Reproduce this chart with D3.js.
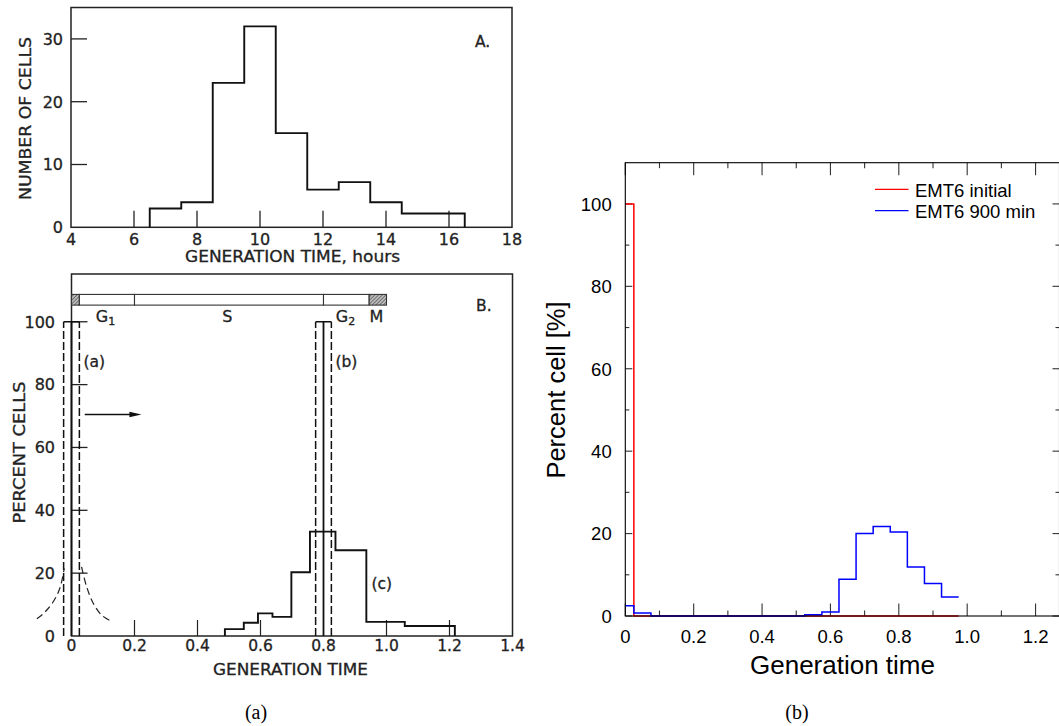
<!DOCTYPE html>
<html><head><meta charset="utf-8">
<script src="https://cdn.jsdelivr.net/npm/d3@7"></script>
<style>
html,body{margin:0;padding:0;background:#fff;}
svg{display:block;}
.scan{stroke:#222;stroke-width:0.3px;}
</style></head><body>
<svg id="fig" width="1059" height="726"></svg>
<script>
// ================= DATA =================
// (a) panel A : generation time histogram (hours)
const aBinEdges = [6.5, 7.5, 8.5, 9.5, 10.5, 11.5, 12.5, 13.5, 14.5, 16.5];
const aCounts   = [3, 4, 23, 32, 15, 6, 7.2, 4, 2.2];
const aXTicks   = [4, 6, 8, 10, 12, 14, 16, 18];
const aYTicks   = [0, 10, 20, 30];

// (a) panel B : normalised generation time
const bBinEdges = [0.487, 0.547, 0.592, 0.638, 0.698, 0.757, 0.838, 0.936, 1.058, 1.217];
const bPercent  = [2.2, 4.2, 7.2, 6.1, 20.3, 33.2, 27.3, 4.5, 3.2];
const bXTicks   = [0, 0.2, 0.4, 0.6, 0.8, 1.0, 1.2, 1.4];
const bXTickLabels = ["0", "0.2", "0.4", "0.6", "0.8", "1.0", "1.2", "1.4"];
const bYTicks   = [0, 20, 40, 60, 80, 100];
const phaseNames   = ["", "G", "S", "G", "M"];
const phaseSubs    = ["", "1", "", "2", ""];
const phaseStart   = [0, 0.025, 0.2, 0.8, 0.945];
const phaseEnd     = [0.025, 0.2, 0.8, 0.945, 1.0];
const phaseHatched = [true, false, false, false, true];
const phaseLabelX  = [null, 0.108, 0.495, 0.87, 0.968];
const pulseCenters = [0, 0.8];
const pulseHalf    = 0.025;
const pulseHeight  = 100;
const pulseLabels  = ["(a)", "(b)"];
const tailLeft  = [[-0.11, 5.5], [-0.095, 6.6], [-0.079, 8.2], [-0.058, 10.9], [-0.037, 15.2], [-0.023, 21.5]];
const tailRight = [[0.032, 22], [0.048, 15.7], [0.069, 10.4], [0.095, 6.7], [0.122, 4.9]];
const arrowFrom = [0.042, 70.5];
const arrowTo   = [0.222, 70.5];

// (b) simulation histogram
const binCenters  = [0, 0.05, 0.1, 0.15, 0.2, 0.25, 0.3, 0.35, 0.4, 0.45, 0.5, 0.55, 0.6, 0.65, 0.7, 0.75, 0.8, 0.85, 0.9, 0.95];
const emt6Initial = [100, 0, 0, 0, 0, 0, 0, 0, 0, 0, 0, 0, 0, 0, 0, 0, 0, 0, 0, 0];
const emt6Final   = [2.5, 0.7, 0, 0, 0, 0, 0, 0, 0, 0, 0, 0.3, 1.0, 8.9, 20.0, 21.7, 20.4, 11.9, 7.9, 4.6];
const binHalf     = 0.025;
const xMajor      = [0, 0.2, 0.4, 0.6, 0.8, 1.0, 1.2];
const xMajorLabels = ["0", "0.2", "0.4", "0.6", "0.8", "1.0", "1.2"];
const xMinor      = [0.1, 0.3, 0.5, 0.7, 0.9, 1.1];
const yMajor      = [0, 20, 40, 60, 80, 100];
const yMinor      = [10, 30, 50, 70, 90];
const seriesNames  = ["EMT6 initial", "EMT6 900 min"];
const seriesColors = ["#ff0000", "#0000ff"];

// ================= DRAW =================
const svg = d3.select("#fig");
svg.append("rect").attr("width", 1059).attr("height", 726).attr("fill", "#fff");
const defs = svg.append("defs");
const pat = defs.append("pattern").attr("id", "hatch").attr("patternUnits", "userSpaceOnUse")
  .attr("width", 2.6).attr("height", 2.6).attr("patternTransform", "rotate(45)");
pat.append("rect").attr("width", 2.6).attr("height", 2.6).attr("fill", "#bbb");
pat.append("line").attr("x1", 0).attr("y1", 0).attr("x2", 0).attr("y2", 2.6).attr("stroke", "#444").attr("stroke-width", 1.2);

const ink = "#222";
const scanFont = "'DejaVu Sans', sans-serif";

// ---------- Panel A ----------
const xA = d3.scaleLinear().domain([4, 18]).range([71, 512]);
const yA = d3.scaleLinear().domain([0, 35]).range([227.3, 7.5]);
const gA = svg.append("g");
gA.append("rect").attr("x", xA(4)).attr("y", yA(35)).attr("width", xA(18) - xA(4)).attr("height", yA(0) - yA(35))
  .attr("fill", "none").attr("stroke", ink).attr("stroke-width", 1.5);
gA.selectAll(".xt").data(aXTicks.slice(1, -1)).join("line")
  .attr("x1", d => xA(d)).attr("x2", d => xA(d)).attr("y1", yA(0)).attr("y2", yA(0) - 16.5)
  .attr("stroke", ink).attr("stroke-width", 1.3);
gA.selectAll(".yt").data(aYTicks.slice(1)).join("line")
  .attr("x1", xA(4)).attr("x2", xA(4) + 16).attr("y1", d => yA(d)).attr("y2", d => yA(d))
  .attr("stroke", ink).attr("stroke-width", 1.3);
gA.selectAll(".xl").data(aXTicks).join("text").attr("class", "scan")
  .attr("x", d => xA(d)).attr("y", 245).attr("text-anchor", "middle")
  .attr("font-family", scanFont).attr("font-size", 16).attr("fill", ink).text(d => d);
gA.selectAll(".yl").data(aYTicks).join("text").attr("class", "scan")
  .attr("x", 63).attr("y", d => yA(d) + 5.8).attr("text-anchor", "end")
  .attr("font-family", scanFont).attr("font-size", 16).attr("fill", ink).text(d => d);
{
  const pts = aCounts.map((v, i) => [aBinEdges[i], v]);
  pts.unshift([aBinEdges[0], 0]);
  pts.push([aBinEdges[aBinEdges.length - 1], aCounts[aCounts.length - 1]]);
  pts.push([aBinEdges[aBinEdges.length - 1], 0]);
  const line = d3.line().x(d => xA(d[0])).y(d => yA(d[1])).curve(d3.curveStepAfter);
  gA.append("path").attr("d", line(pts)).attr("fill", "none").attr("stroke", "#111").attr("stroke-width", 1.9);
}
gA.append("text").attr("class", "scan").attr("transform", "translate(30.5,118.5) rotate(-90)").attr("text-anchor", "middle")
  .attr("font-family", scanFont).attr("font-size", 15.5).attr("fill", ink)
  .attr("textLength", 163).attr("lengthAdjust", "spacingAndGlyphs").text("NUMBER OF CELLS");
gA.append("text").attr("class", "scan").attr("x", 292.5).attr("y", 262).attr("text-anchor", "middle")
  .attr("font-family", scanFont).attr("font-size", 15.5).attr("fill", ink)
  .attr("textLength", 215).attr("lengthAdjust", "spacingAndGlyphs").text("GENERATION TIME, hours");
gA.append("text").attr("class", "scan").attr("x", 475).attr("y", 46.5).attr("font-family", scanFont).attr("font-size", 15.5).attr("fill", ink).text("A.");

// ---------- Panel B ----------
const xB = d3.scaleLinear().domain([0, 1.4]).range([71.5, 512.5]);
const yB = d3.scaleLinear().domain([0, 115.2]).range([636, 274]);
const gB = svg.append("g");
gB.append("rect").attr("x", xB(0)).attr("y", yB(115.2)).attr("width", xB(1.4) - xB(0)).attr("height", yB(0) - yB(115.2))
  .attr("fill", "none").attr("stroke", ink).attr("stroke-width", 1.5);
gB.selectAll(".xt").data(bXTicks.filter(d => d > 0 && d < 1.4 && d !== 0.8)).join("line")
  .attr("x1", d => xB(d)).attr("x2", d => xB(d)).attr("y1", yB(0)).attr("y2", yB(0) - 16)
  .attr("stroke", ink).attr("stroke-width", 1.2);
gB.selectAll(".yt").data(bYTicks.slice(1)).join("line")
  .attr("x1", xB(0)).attr("x2", xB(0) + 16).attr("y1", d => yB(d)).attr("y2", d => yB(d))
  .attr("stroke", ink).attr("stroke-width", 1.3);
gB.selectAll(".xl").data(bXTicks).join("text").attr("class", "scan")
  .attr("x", d => xB(d)).attr("y", 651).attr("text-anchor", "middle")
  .attr("font-family", scanFont).attr("font-size", 15.5).attr("fill", ink).text((d, i) => bXTickLabels[i]);
gB.selectAll(".yl").data(bYTicks).join("text").attr("class", "scan")
  .attr("x", 55).attr("y", d => yB(d) + 5.8).attr("text-anchor", "end")
  .attr("font-family", scanFont).attr("font-size", 16).attr("fill", ink).text(d => d);

// cell cycle bar
const barLo = 105.3, barHi = 108.7;
phaseStart.forEach((s, i) => {
  gB.append("rect").attr("x", xB(s)).attr("y", yB(barHi)).attr("width", xB(phaseEnd[i]) - xB(s))
    .attr("height", yB(barLo) - yB(barHi))
    .attr("fill", phaseHatched[i] ? "url(#hatch)" : "#fff").attr("stroke", "#333").attr("stroke-width", 1.1);
  if (phaseNames[i]) {
    const t = gB.append("text").attr("class", "scan").attr("x", xB(phaseLabelX[i])).attr("y", 322).attr("text-anchor", "middle")
      .attr("font-family", scanFont).attr("font-size", 16).attr("fill", ink);
    t.append("tspan").text(phaseNames[i]);
    if (phaseSubs[i]) t.append("tspan").attr("font-size", 11).attr("dy", 3).text(phaseSubs[i]);
  }
});

// pulses (a) and (b)
pulseCenters.forEach((c, i) => {
  gB.append("line").attr("x1", xB(c)).attr("x2", xB(c)).attr("y1", yB(0)).attr("y2", yB(pulseHeight))
    .attr("stroke", "#111").attr("stroke-width", 1.8);
  [c - pulseHalf, c + pulseHalf].forEach(xv => {
    gB.append("line").attr("x1", xB(xv)).attr("x2", xB(xv)).attr("y1", yB(0)).attr("y2", yB(pulseHeight))
      .attr("stroke", "#111").attr("stroke-width", 1.5).attr("stroke-dasharray", "8,3");
  });
  gB.append("line").attr("x1", xB(c - pulseHalf)).attr("x2", xB(c + pulseHalf)).attr("y1", yB(pulseHeight)).attr("y2", yB(pulseHeight))
    .attr("stroke", "#111").attr("stroke-width", 1.5);
  gB.append("text").attr("class", "scan").attr("x", xB(c + pulseHalf) + 4).attr("y", 366.5)
    .attr("font-family", scanFont).attr("font-size", 15.5).attr("fill", ink).text(pulseLabels[i]);
});
// dashed tails
{
  const tl = d3.line().x(d => xB(d[0])).y(d => yB(d[1])).curve(d3.curveCatmullRom);
  [tailLeft, tailRight].forEach(pts => {
    gB.append("path").attr("d", tl(pts)).attr("fill", "none").attr("stroke", "#222")
      .attr("stroke-width", 1.2).attr("stroke-dasharray", "7,4");
  });
}
// arrow
{
  const x1 = xB(arrowFrom[0]), x2 = xB(arrowTo[0]), y = yB(arrowFrom[1]);
  gB.append("line").attr("x1", x1).attr("x2", x2 - 8).attr("y1", y).attr("y2", y).attr("stroke", "#111").attr("stroke-width", 1.4);
  gB.append("path").attr("d", `M${x2},${y} L${x2 - 12},${y - 2.8} L${x2 - 12},${y + 2.8} Z`).attr("fill", "#111");
}
// histogram (c)
{
  const pts = bPercent.map((v, i) => [bBinEdges[i], v]);
  pts.unshift([bBinEdges[0], 0]);
  pts.push([bBinEdges[bBinEdges.length - 1], bPercent[bPercent.length - 1]]);
  pts.push([bBinEdges[bBinEdges.length - 1], 0]);
  const line = d3.line().x(d => xB(d[0])).y(d => yB(d[1])).curve(d3.curveStepAfter);
  gB.append("path").attr("d", line(pts)).attr("fill", "none").attr("stroke", "#111").attr("stroke-width", 1.9);
  gB.append("text").attr("class", "scan").attr("x", 371.5).attr("y", 589).attr("font-family", scanFont).attr("font-size", 15.5).attr("fill", ink).text("(c)");
}
gB.append("text").attr("class", "scan").attr("transform", "translate(25,452.5) rotate(-90)").attr("text-anchor", "middle")
  .attr("font-family", scanFont).attr("font-size", 15.5).attr("fill", ink)
  .attr("textLength", 142).attr("lengthAdjust", "spacingAndGlyphs").text("PERCENT CELLS");
gB.append("text").attr("class", "scan").attr("x", 290.5).attr("y", 675).attr("text-anchor", "middle")
  .attr("font-family", scanFont).attr("font-size", 15).attr("fill", ink)
  .attr("textLength", 155).attr("lengthAdjust", "spacingAndGlyphs").text("GENERATION TIME");
gB.append("text").attr("class", "scan").attr("x", 476).attr("y", 310.5).attr("font-family", scanFont).attr("font-size", 15.5).attr("fill", ink).text("B.");

// ---------- Right chart (b) ----------
const sans = "'Liberation Sans', Arial, sans-serif";
const xR = d3.scaleLinear().domain([0, 1.27]).range([625.3, 1059.5]);
const yR = d3.scaleLinear().domain([0, 110]).range([616, 162.7]);
const gR = svg.append("g");
const xr0 = xR(0), xr1 = xR(1.27), yr0 = yR(0), yr1 = yR(110);
xMajor.forEach(v => {
  gR.append("line").attr("x1", xR(v)).attr("x2", xR(v)).attr("y1", yr0).attr("y2", yr0 - 12.5).attr("stroke", "#333").attr("stroke-width", 1.1);
  gR.append("line").attr("x1", xR(v)).attr("x2", xR(v)).attr("y1", yr1).attr("y2", yr1 + 12.5).attr("stroke", "#333").attr("stroke-width", 1.1);
});
xMinor.forEach(v => {
  gR.append("line").attr("x1", xR(v)).attr("x2", xR(v)).attr("y1", yr0).attr("y2", yr0 - 5.5).attr("stroke", "#333").attr("stroke-width", 1.1);
  gR.append("line").attr("x1", xR(v)).attr("x2", xR(v)).attr("y1", yr1).attr("y2", yr1 + 5.5).attr("stroke", "#333").attr("stroke-width", 1.1);
});
yMajor.forEach(v => {
  gR.append("line").attr("x1", xr0).attr("x2", xr0 + 7).attr("y1", yR(v)).attr("y2", yR(v)).attr("stroke", "#333").attr("stroke-width", 1.1);
  gR.append("line").attr("x1", xr1).attr("x2", xr1 - 7).attr("y1", yR(v)).attr("y2", yR(v)).attr("stroke", "#333").attr("stroke-width", 1.1);
});
yMinor.forEach(v => {
  gR.append("line").attr("x1", xr0).attr("x2", xr0 + 4).attr("y1", yR(v)).attr("y2", yR(v)).attr("stroke", "#333").attr("stroke-width", 1.1);
  gR.append("line").attr("x1", xr1).attr("x2", xr1 - 4).attr("y1", yR(v)).attr("y2", yR(v)).attr("stroke", "#333").attr("stroke-width", 1.1);
});
gR.selectAll(".xl").data(xMajor).join("text")
  .attr("x", d => xR(d)).attr("y", yr0 + 27.3).attr("text-anchor", "middle")
  .attr("font-family", sans).attr("font-size", 18.5).attr("fill", "#000").text((d, i) => xMajorLabels[i]);
gR.selectAll(".yl").data(yMajor).join("text")
  .attr("x", 611.7).attr("y", d => yR(d) + 6.8).attr("text-anchor", "end")
  .attr("font-family", sans).attr("font-size", 18.5).attr("fill", "#000").text(d => d);

{
  const edges = binCenters.map(c => Math.max(0, c - binHalf));
  const endEdge = binCenters[binCenters.length - 1] + binHalf;
  const stepPts = vals => { const p = vals.map((v, i) => [edges[i], v]); p.push([endEdge, vals[vals.length - 1]]); return p; };
  const line = d3.line().x(d => xR(d[0])).y(d => yR(d[1])).curve(d3.curveStepAfter);
  [emt6Initial, emt6Final].forEach((vals, i) => {
    gR.append("path").attr("d", line(stepPts(vals))).attr("fill", "none")
      .attr("stroke", seriesColors[i]).attr("stroke-width", 1.5);
  });
}
gR.append("rect").attr("x", xr0).attr("y", yr1).attr("width", xr1 - xr0).attr("height", yr0 - yr1)
  .attr("fill", "none").attr("stroke", "#000").attr("stroke-width", 1.1);
seriesNames.forEach((n, i) => {
  const ly = [189.3, 210.7][i];
  gR.append("line").attr("x1", 875).attr("x2", 908.5).attr("y1", ly).attr("y2", ly).attr("stroke", seriesColors[i]).attr("stroke-width", 1.2);
  gR.append("text").attr("x", 915).attr("y", ly + 7.2).attr("font-family", sans).attr("font-size", 18.5).attr("fill", "#000").text(n);
});
gR.append("text").attr("transform", "translate(565,390) rotate(-90)").attr("text-anchor", "middle")
  .attr("font-family", sans).attr("font-size", 25.5).attr("fill", "#000").text("Percent cell [%]");
gR.append("text").attr("x", 842.5).attr("y", 674).attr("text-anchor", "middle")
  .attr("font-family", sans).attr("font-size", 26).attr("fill", "#000").text("Generation time");

// ---------- captions ----------
const serif = "'Liberation Serif', 'DejaVu Serif', serif";
svg.append("text").attr("x", 256).attr("y", 719).attr("text-anchor", "middle").attr("font-family", serif).attr("font-size", 20).text("(a)");
svg.append("text").attr("x", 797).attr("y", 719).attr("text-anchor", "middle").attr("font-family", serif).attr("font-size", 20).text("(b)");
</script>
</body></html>
